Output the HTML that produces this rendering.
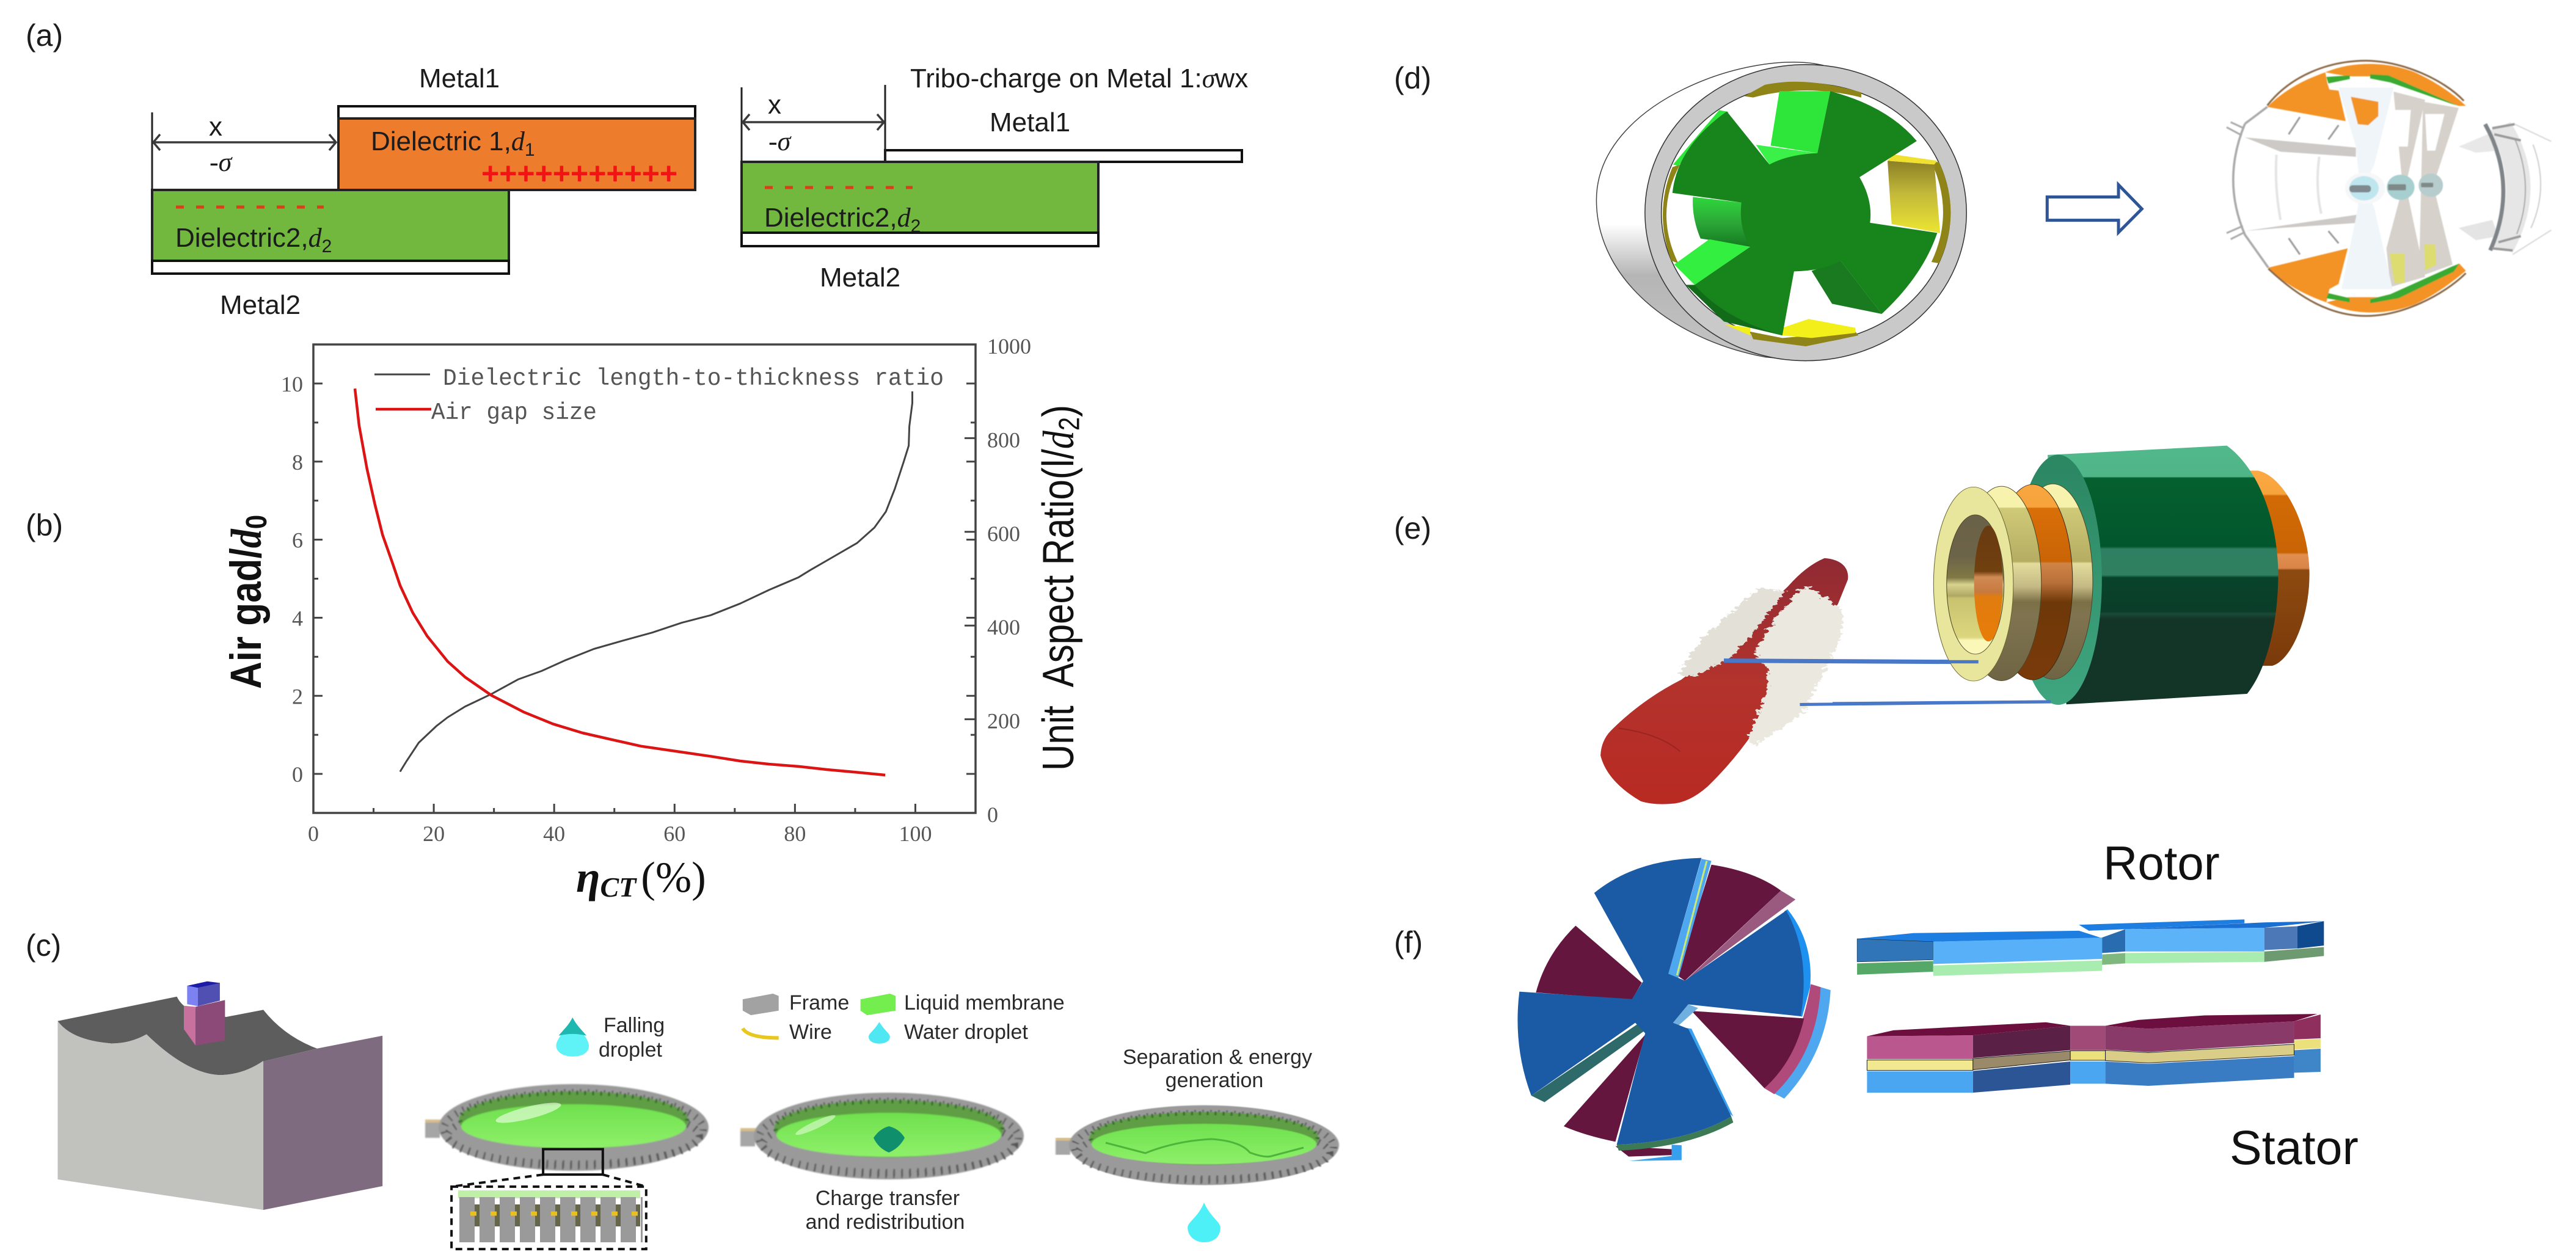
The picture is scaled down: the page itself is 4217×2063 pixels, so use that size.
<!DOCTYPE html>
<html lang="en">
<head>
<meta charset="utf-8">
<title>Tribo-electric generator figure</title>
<style>
html,body{margin:0;padding:0;background:#fff}
svg{display:block;position:absolute;left:0;top:0}
text{font-family:"Liberation Sans",sans-serif;fill:#1c1c1c}
.ns *{vector-effect:non-scaling-stroke}
.lbl{font-size:50px}
.a{font-size:44px}
.c{font-size:34px;fill:#2a2a2a}
.sg{font-family:"Liberation Serif",serif;font-style:italic}
.tick{font-family:"Liberation Serif",serif;font-size:36px;fill:#555}
.leg{font-family:"Liberation Mono",monospace;font-size:39px;fill:#555}
</style>
</head>
<body>
<svg id="fig" xmlns="http://www.w3.org/2000/svg" width="4217" height="2063" viewBox="0 0 4217 2063">
<defs>
<filter id="soft" x="-5%" y="-5%" width="110%" height="110%"><feGaussianBlur stdDeviation="2"/></filter>
<filter id="softer" x="-5%" y="-5%" width="110%" height="110%"><feGaussianBlur stdDeviation="1"/></filter>
<filter id="rough" x="-10%" y="-10%" width="120%" height="120%"><feTurbulence type="fractalNoise" baseFrequency="0.09" numOctaves="3" seed="4"/><feDisplacementMap in="SourceGraphic" scale="22" xChannelSelector="R" yChannelSelector="G"/></filter>
<linearGradient id="gMem" x1="0" y1="0" x2="0" y2="1"><stop offset="0" stop-color="#6fe04e"/><stop offset="1" stop-color="#8ff06a"/></linearGradient>
<linearGradient id="gBody" gradientUnits="userSpaceOnUse" x1="0" y1="208" x2="0" y2="1315">
<stop offset="0" stop-color="#52b98c"/><stop offset=".12" stop-color="#4fb588"/><stop offset=".125" stop-color="#05602f"/><stop offset=".39" stop-color="#02572c"/><stop offset=".4" stop-color="#2f8062"/><stop offset=".5" stop-color="#2f7f60"/><stop offset=".51" stop-color="#08432a"/><stop offset=".64" stop-color="#0b3d28"/><stop offset=".65" stop-color="#1c4a38"/><stop offset=".67" stop-color="#123527"/><stop offset="1" stop-color="#123527"/></linearGradient>
<linearGradient id="gFace" x1="0" y1="0" x2="0" y2="1"><stop offset="0" stop-color="#2b8662"/><stop offset="1" stop-color="#3fa67f"/></linearGradient>
<linearGradient id="gYel" gradientUnits="userSpaceOnUse" x1="0" y1="380" x2="0" y2="1210">
<stop offset="0" stop-color="#f8f3ae"/><stop offset=".11" stop-color="#f6f1ab"/><stop offset=".115" stop-color="#cfca78"/><stop offset=".39" stop-color="#b5ad62"/><stop offset=".4" stop-color="#e3dc9c"/><stop offset=".52" stop-color="#c4b984"/><stop offset=".6" stop-color="#7a6f45"/><stop offset=".66" stop-color="#807450"/><stop offset="1" stop-color="#6f6444"/></linearGradient>
<linearGradient id="gOra" gradientUnits="userSpaceOnUse" x1="0" y1="380" x2="0" y2="1210">
<stop offset="0" stop-color="#f9a640"/><stop offset=".11" stop-color="#f8a33c"/><stop offset=".115" stop-color="#d96f08"/><stop offset=".39" stop-color="#c96405"/><stop offset=".4" stop-color="#cf8446"/><stop offset=".5" stop-color="#b9703a"/><stop offset=".6" stop-color="#6e3808"/><stop offset="1" stop-color="#7a3a0a"/></linearGradient>
<linearGradient id="gBack" gradientUnits="userSpaceOnUse" x1="0" y1="315" x2="0" y2="1150">
<stop offset="0" stop-color="#fcaa44"/><stop offset=".12" stop-color="#f8a33c"/><stop offset=".13" stop-color="#d26b05"/><stop offset=".42" stop-color="#c96405"/><stop offset=".43" stop-color="#e08f50"/><stop offset=".5" stop-color="#d98448"/><stop offset=".51" stop-color="#8d4a10"/><stop offset="1" stop-color="#7a3a0a"/></linearGradient>
<linearGradient id="gHole" gradientUnits="userSpaceOnUse" x1="0" y1="505" x2="0" y2="1100">
<stop offset="0" stop-color="#6a6148"/><stop offset=".3" stop-color="#6c6448"/><stop offset=".45" stop-color="#807844"/><stop offset=".5" stop-color="#d9d38f"/><stop offset=".58" stop-color="#b0a764"/><stop offset=".6" stop-color="#c9c26f"/><stop offset=".88" stop-color="#dcd77e"/><stop offset=".9" stop-color="#fbf7b8"/><stop offset="1" stop-color="#fbf7b8"/></linearGradient>
<linearGradient id="gIn" gradientUnits="userSpaceOnUse" x1="0" y1="550" x2="0" y2="1040">
<stop offset="0" stop-color="#6a3a12"/><stop offset=".4" stop-color="#70400f"/><stop offset=".45" stop-color="#d08a55"/><stop offset=".58" stop-color="#c77a3f"/><stop offset=".62" stop-color="#e07c10"/><stop offset="1" stop-color="#e87c08"/></linearGradient>
<linearGradient id="gShell" gradientUnits="userSpaceOnUse" x1="0" y1="222" x2="0" y2="1425"><stop offset="0" stop-color="#fff"/><stop offset=".55" stop-color="#fff"/><stop offset=".72" stop-color="#b5b5b5"/><stop offset="1" stop-color="#c5c5c5"/></linearGradient>
<linearGradient id="gGB" gradientUnits="userSpaceOnUse" x1="0" y1="780" x2="0" y2="975"><stop offset="0" stop-color="#2fd63c"/><stop offset=".5" stop-color="#2ca838"/><stop offset="1" stop-color="#157a20"/></linearGradient>
<linearGradient id="gYB" gradientUnits="userSpaceOnUse" x1="0" y1="635" x2="0" y2="920"><stop offset="0" stop-color="#8a7f25"/><stop offset=".45" stop-color="#c2b83a"/><stop offset="1" stop-color="#ece532"/></linearGradient>
<linearGradient id="gTube" x1="0" y1="0" x2="0" y2="1"><stop offset="0" stop-color="#8f2a33"/><stop offset=".5" stop-color="#b3332d"/><stop offset="1" stop-color="#b82a22"/></linearGradient>
<g id="ring">
<rect x="-243" y="-13" width="24" height="30" fill="#a6a6a6"/>
<rect x="-243" y="-13" width="36" height="5" fill="#d6bd8a"/>
<ellipse rx="221" ry="71" fill="#9a9a9a"/>
<ellipse cy="14" rx="206" ry="46" fill="none" stroke="#555" stroke-width="12" stroke-dasharray="2.5 10.5"/>
<ellipse cy="3" rx="212" ry="60" fill="none" stroke="#5c5c5c" stroke-width="12" stroke-dasharray="2.5 10.5"/>
<ellipse cy="-12" rx="188" ry="47" fill="#5f9e44"/>
<ellipse cy="-14" rx="186" ry="43" fill="none" stroke="#36662a" stroke-width="7" stroke-dasharray="3 10"/>
<ellipse cy="-2" rx="184" ry="36" fill="url(#gMem)"/>
</g>
</defs>

<rect width="4217" height="2063" fill="#fff"/>

<!-- panel labels -->
<g>
<text class="lbl" x="42" y="75">(a)</text>
<text class="lbl" x="42" y="877">(b)</text>
<text class="lbl" x="42" y="1565">(c)</text>
<text class="lbl" x="2282" y="145">(d)</text>
<text class="lbl" x="2282" y="882">(e)</text>
<text class="lbl" x="2282" y="1560">(f)</text>
</g>

<!-- panel a -->
<g>
<rect x="554" y="174" width="584" height="20" fill="#fff" stroke="#111" stroke-width="4"/>
<rect x="554" y="194" width="584" height="117" fill="#ed7d2d" stroke="#222" stroke-width="4"/>
<rect x="249" y="311" width="584" height="116" fill="#72b83f" stroke="#222" stroke-width="4"/>
<rect x="249" y="427" width="584" height="21" fill="#fff" stroke="#111" stroke-width="4"/>
<path d="M249,184V311M554,194V311" stroke="#222" stroke-width="3" fill="none"/>
<path d="M251,233H550M262,220L251,233L262,246M539,220L550,233L539,246" stroke="#3a3a3a" stroke-width="3.5" fill="none"/>
<text class="a" x="342" y="222">x</text>
<text class="a sg" x="343" y="280">-σ</text>
<text class="a" x="607" y="246">Dielectric 1,<tspan class="sg">d</tspan><tspan dy="9" font-size="30">1</tspan></text>
<text x="788" y="301" font-size="50" font-weight="bold" style="fill:#f01414">+++++++++++</text>
<line x1="288" y1="339" x2="530" y2="339" stroke="#d8401c" stroke-width="5" stroke-dasharray="13 20"/>
<text class="a" x="287" y="404">Dielectric2,<tspan class="sg">d</tspan><tspan dy="9" font-size="30">2</tspan></text>
<text class="a" x="686" y="143">Metal1</text>
<text class="a" x="360" y="514">Metal2</text>
</g>
<g>
<rect x="1449" y="246" width="584" height="19" fill="#fff" stroke="#111" stroke-width="4"/>
<rect x="1214" y="265" width="584" height="116" fill="#72b83f" stroke="#222" stroke-width="4"/>
<rect x="1214" y="381" width="584" height="22" fill="#fff" stroke="#111" stroke-width="4"/>
<path d="M1214,143V265M1449,139V265" stroke="#222" stroke-width="3" fill="none"/>
<path d="M1216,200H1447M1227,187L1216,200L1227,213M1436,187L1447,200L1436,213" stroke="#3a3a3a" stroke-width="3.5" fill="none"/>
<text class="a" x="1257" y="186">x</text>
<text class="a sg" x="1258" y="246">-σ</text>
<text class="a" x="1620" y="215">Metal1</text>
<text class="a" x="1490" y="143">Tribo-charge on Metal 1:<tspan class="sg">σ</tspan>wx</text>
<line x1="1252" y1="307" x2="1494" y2="307" stroke="#d8401c" stroke-width="5" stroke-dasharray="13 20"/>
<text class="a" x="1251" y="371">Dielectric2,<tspan class="sg">d</tspan><tspan dy="9" font-size="30">2</tspan></text>
<text class="a" x="1342" y="469">Metal2</text>
</g>

<!-- panel b : chart -->
<g id="chart">
<rect x="513" y="564" width="1084" height="767" fill="none" stroke="#444" stroke-width="3.5"/>
<text transform="translate(427,1128) rotate(-90) scale(1,1.15)" font-size="62" font-weight="bold" style="fill:#111">Air gad/<tspan font-family="Liberation Serif" font-style="italic">d</tspan><tspan font-size="42" dy="8">0</tspan></text>
<text transform="translate(1757,1262) rotate(-90) scale(1,1.2)" font-size="60" style="fill:#111" xml:space="preserve">Unit  Aspect Ratio(l/<tspan font-family="Liberation Serif" font-style="italic">d</tspan><tspan font-size="40" dy="8">2</tspan><tspan dy="-8">)</tspan></text>
<text x="943" y="1460" font-size="62" style="font-family:'Liberation Serif',serif;fill:#111"><tspan font-weight="bold" font-style="italic" font-size="72">η</tspan><tspan font-weight="bold" font-style="italic" font-size="46" dy="8">CT</tspan><tspan dy="-8" dx="8" font-size="71">(%)</tspan></text>
<line x1="613" y1="613" x2="704" y2="613" stroke="#444" stroke-width="3"/>
<text class="leg" x="725" y="630" textLength="820" lengthAdjust="spacingAndGlyphs">Dielectric length-to-thickness ratio</text>
<line x1="615" y1="670" x2="706" y2="670" stroke="#e01010" stroke-width="4.5"/>
<text class="leg" x="706" y="686" textLength="271" lengthAdjust="spacingAndGlyphs">Air gap size</text>
</g>

<!-- panel c -->
<g class="ns" transform="translate(60,1540) scale(.7651,.3336)">
<path fill="#5d5d5d" d="M45,395L300,275Q305,300 315,320L405,375L485,340Q530,470 600,530L490,590Q440,660 390,660Q320,650 235,460Q200,505 160,505Q75,490 45,395Z"/>
<path fill="#c1c1be" d="M45,395Q75,490 160,505Q200,505 235,460Q320,650 390,660Q440,660 485,590V1322L45,1172Z"/>
<path fill="#7f6b80" d="M485,590L490,590L600,530L740,467V1205L485,1322Z"/>
<path fill="#c8709e" d="M315,320L340,325V515L315,435Z"/>
<path fill="#8b4a78" d="M340,325L403,292V490L340,515Z"/>
<path fill="#7d82f2" d="M322,222L345,232V322L322,312Z"/>
<path fill="#5050b2" d="M345,232L392,207V295L345,322Z"/>
<path fill="#1c1ca8" d="M322,222L365,200L392,208L345,232Z"/>
</g>
<use href="#ring" transform="translate(939,1846)" filter="url(#softer)"/>
<use href="#ring" transform="translate(1455,1860)" filter="url(#softer)"/>
<use href="#ring" transform="translate(1971,1875) scale(1,.92)" filter="url(#softer)"/>
<ellipse cx="865" cy="1822" rx="55" ry="10" transform="rotate(-14 865 1822)" fill="#e9ffe0" opacity=".65"/>
<ellipse cx="1335" cy="1842" rx="36" ry="6" transform="rotate(-25 1335 1842)" fill="#e9ffe0" opacity=".55"/>
<path d="M1430,1863Q1440,1848 1455,1844Q1472,1848 1481,1863Q1472,1880 1455,1887Q1438,1880 1430,1863Z" fill="#0f8f6c"/>
<path d="M1810,1871L1875,1888Q1925,1868 1983,1865Q2030,1868 2046,1887Q2070,1896 2081,1893L2134,1879" fill="none" stroke="#4db53a" stroke-width="3"/>
<g class="ns" transform="translate(0,1480) scale(1.339,.3718)">
<rect x="664" y="1080" width="73" height="112" fill="none" stroke="#111" stroke-width="4"/>
<path d="M664,1192L552,1245M737,1192L790,1245" fill="none" stroke="#111" stroke-width="4" stroke-dasharray="11 8"/>
<rect x="552" y="1245" width="238" height="275" fill="#fff" stroke="#111" stroke-width="4" stroke-dasharray="11 8"/>
<path fill="#a2a2a2" d="M908,420L945,395L952,405V470L918,490L908,470Z"/>
<path fill="#74ee4e" d="M1052,420L1088,395L1095,405V470L1060,490L1052,470Z"/>
<path fill="none" stroke="#e8c81e" stroke-width="6" d="M908,548Q915,590 952,590"/>
<path fill="#4fe8f2" d="M1075,520C1068,560 1062,570 1062,585C1062,605 1068,615 1075,615C1082,615 1088,605 1088,585C1088,570 1082,560 1075,520Z"/>
<path fill="#5ff2f6" d="M700,500C695,545 680,590 680,625C680,655 690,672 700,672C712,672 720,655 720,625C720,590 705,545 700,500Z"/>
<path fill="#1fb8b0" d="M700,500C695,535 690,550 683,580Q700,565 717,580C710,550 705,535 700,500Z"/>
<path fill="#4df0f6" d="M1472,1315C1465,1380 1452,1400 1452,1425C1452,1465 1462,1490 1472,1490C1484,1490 1492,1465 1492,1425C1492,1400 1480,1380 1472,1315Z"/>
</g>
<rect x="750" y="1949" width="298" height="13" fill="#c0f0a8"/>
<rect x="752" y="1972" width="296" height="36" fill="#66664a"/>
<line x1="752" y1="1997" x2="1052" y2="1997" stroke="#9a9a9a" stroke-width="74" stroke-dasharray="25 8"/>
<line x1="770" y1="1987" x2="1050" y2="1987" stroke="#e8c020" stroke-width="7" stroke-dasharray="10 23"/>
<g>
<text class="c" x="1292" y="1653">Frame</text>
<text class="c" x="1480" y="1653">Liquid membrane</text>
<text class="c" x="1292" y="1701">Wire</text>
<text class="c" x="1480" y="1701">Water droplet</text>
<text class="c" x="988" y="1690">Falling</text>
<text class="c" x="980" y="1730">droplet</text>
<text class="c" x="1993" y="1742" text-anchor="middle">Separation &amp; energy</text>
<text class="c" x="1988" y="1780" text-anchor="middle">generation</text>
<text class="c" x="1453" y="1973" text-anchor="middle">Charge transfer</text>
<text class="c" x="1449" y="2012" text-anchor="middle">and redistribution</text>
</g>

<!-- panel d left -->
<g class="ns" transform="translate(2200,0) scale(.957,.4145)">
<path d="M820,258C700,190 432,400 432,790C432,1100 560,1340 720,1410L790,1425L790,255Z" fill="url(#gShell)" stroke="#444" stroke-width="1.5"/>
<ellipse cx="790" cy="840" rx="275" ry="585" fill="#cac9c9" stroke="#333" stroke-width="1.5"/>
<ellipse cx="790" cy="841" rx="247" ry="512" fill="#fff" stroke="#333" stroke-width="1.5"/>
<path fill="#8f8418" d="M685,380L700,385Q790,330 885,385V365Q790,300 720,335Z"/>
<path fill="#8f8418" d="M695,1310L750,1335L875,1310L880,1325L790,1368L700,1340Z"/>
<path fill="#8f8418" d="M1005,640Q1045,840 1005,1035L1018,1040Q1058,840 1018,640Z"/>
<path fill="#8f8418" d="M575,650Q530,840 572,1040L560,1030Q530,840 562,660Z"/>
<path fill="url(#gYB)" d="M930,635L1010,650L1020,920L937,885Z"/>
<path fill="#f0e030" d="M940,610L1015,635L1010,650L930,635Z"/>
<path fill="#f2ef1a" d="M750,1325V1295L795,1260L875,1295V1315L800,1335Z"/>
<path fill="#f2ef1a" d="M650,1280L695,1295V1325Z"/>
<path fill="#2ee63a" d="M745,360H832L810,605L730,575Z"/>
<path fill="#3cf04a" d="M705,572L810,605L728,650Z"/>
<path fill="#2ee63a" d="M642,435L658,442L572,655L563,650Z"/>
<path fill="url(#gGB)" d="M597,778L680,800L695,975L610,942Q595,860 597,778Z"/>
<path fill="#33f040" d="M625,945L695,975L600,1125L565,1045Z"/>
<path fill="#1a7a20" d="M800,1070L850,1030L920,1240L835,1200Z"/>
<path fill="#126b18" d="M585,1125H600L750,1325L650,1270Z"/>
<path fill="#18841c" d="M655,440L728,650Q760,610 810,605L832,360Q930,420 980,557L882,700Q905,790 900,880L1015,920Q990,1090 920,1240L850,1030Q820,1070 770,1072L750,1325Q650,1260 600,1125L695,975Q675,900 680,800L562,762Q570,580 655,440Z"/>
<path fill="#fff" stroke="#2f5597" stroke-width="5" d="M1203,778H1325V730L1365,825L1325,918V870H1203Z"/>
</g>

<!-- panel d right -->
<g transform="translate(3700,40) scale(.3333)" filter="url(#soft)">
<path fill="#e8e8e8" d="M975,600L1140,530L1170,620L1060,630Z"/>
<path fill="#e4e4e4" d="M975,1000L1140,960L1170,1040L1060,1060Z"/>
<path fill="#e6e6e6" d="M1130,520L1230,480Q1420,790 1240,1120L1140,1090Q1280,800 1130,520Z"/>
<path fill="none" stroke="#7f8488" stroke-width="20" d="M1105,490Q1270,790 1130,1110"/>
<path fill="none" stroke="#a8a8a8" stroke-width="6" d="M1250,560Q1350,800 1260,1030"/>
<path fill="none" stroke="#cfcfcf" stroke-width="6" d="M1340,590Q1420,800 1330,1000"/>
<path fill="none" stroke="#9a9a9a" stroke-width="12" d="M1140,510L1250,490M1150,540L1280,570M1140,1100L1240,1110M1170,1070L1280,1040"/>
<path fill="none" stroke="#d8d8d8" stroke-width="6" d="M1250,490L1430,575M1240,1130L1430,1010"/>
<path fill="#ccc9c6" d="M-75,555L470,605L470,650L100,625Z"/>
<path fill="#ccc9c6" d="M-75,1015L475,935V975L100,1000Z"/>
<path fill="none" stroke="#e4e4e4" stroke-width="12" d="M80,640Q70,800 100,960M290,650Q270,800 300,930"/>
<path fill="none" stroke="#9c9c9c" stroke-width="9" d="M140,540L195,455M335,565L385,495M140,1050L195,1130M335,1015L385,1075"/>
<path fill="none" stroke="#aaa" stroke-width="11" d="M-75,488Q-190,765 -75,1033L40,1195M-75,488L35,405"/>
<path fill="none" stroke="#aaa" stroke-width="9" d="M-145,480L-80,510M-165,505L-90,545M-165,1025L-85,990M-145,1055L-75,1020"/>
<path fill="#d6d1cb" d="M800,380L975,410L850,790L945,1180L780,1240Z"/>
<path fill="#d6d1cb" d="M655,330L810,370L715,790L810,1240L640,1290L620,1100L700,800Z"/>
<path fill="#fff" d="M640,420H740L725,600H680Z"/>
<path fill="#fff" d="M810,440H905L860,620H820Z"/>
<path fill="#dcdc70" d="M635,1125H710V1270H660Z"/>
<path fill="#dcdc70" d="M805,1080H860L865,1180L810,1210Z"/>
<path fill="#eff5f8" d="M385,310H655L560,690L510,790L560,900L650,1300H400L480,900L490,790L470,600Z"/>
<path fill="#f39326" d="M320,235C450,180 620,180 760,235C860,280 960,350 1010,400L975,400L640,255H430Z"/>
<path fill="#f39326" d="M325,1365C450,1430 620,1430 760,1375C860,1330 950,1260 1010,1210L978,1175L640,1340H430Z"/>
<path fill="#f39326" d="M35,405C120,320 220,270 320,235L330,290L340,320L385,325L420,475Z"/>
<path fill="#f39326" d="M40,1195L430,1100L385,1275L340,1300L325,1365C220,1330 110,1270 40,1195Z"/>
<path fill="#f39326" d="M445,355L580,380V450L530,495L480,490Z"/>
<path fill="#3aaa30" d="M325,258L440,250V268L335,290Z"/>
<path fill="#3aaa30" d="M540,245L630,250L975,400L940,390L640,285L540,265Z"/>
<path fill="#3aaa30" d="M335,1320L440,1345V1365L325,1345Z"/>
<path fill="#3aaa30" d="M540,1350L640,1325L940,1190L978,1175L950,1215L680,1345L540,1370Z"/>
<path fill="none" stroke="#8a6a4a" stroke-width="9" d="M35,398C150,250 340,178 520,178C700,180 900,270 1000,375"/>
<path fill="none" stroke="#8a6a4a" stroke-width="9" d="M40,1200C200,1350 350,1432 520,1432C700,1432 900,1330 1010,1222"/>
<ellipse cx="515" cy="805" rx="98" ry="78" fill="#f5f7f8"/>
<ellipse cx="510" cy="805" rx="72" ry="60" fill="#bfe6ee"/>
<rect x="438" y="790" width="106" height="35" rx="15" fill="#7e8a90"/>
<ellipse cx="690" cy="800" rx="68" ry="62" fill="#a8cfd0"/>
<rect x="628" y="785" width="88" height="30" rx="6" fill="#7f8a88"/>
<ellipse cx="838" cy="790" rx="60" ry="58" fill="#b7cccc"/>
<rect x="790" y="778" width="60" height="22" rx="5" fill="#7f8a88"/>
</g>

<!-- panel e -->
<g class="ns" transform="translate(2200,650) scale(.957,.4464)">
<path fill="url(#gTube)" d="M822,591C850,595 865,625 862,670L845,760L725,1075Q715,1180 691,1259Q660,1350 623,1427Q590,1490 559,1492Q530,1497 508,1483Q450,1410 439,1315Q440,1260 457,1223Q510,1110 577,1037L657,907L760,694Q790,620 822,591Z"/>
<path fill="none" stroke="#9c2420" stroke-width="2" d="M470,1215Q540,1235 575,1300"/>
<path fill="#e3e0d8" filter="url(#rough)" d="M708,703L754,712L691,889L657,963L600,1028L571,1019L611,889L669,777Z"/>
<path fill="#ebe8e0" filter="url(#rough)" d="M794,694L852,777L852,870L806,1075L783,1167L702,1279L691,1259L725,1075L725,999L702,934L737,815L777,712Z"/>
<line x1="650" y1="967" x2="1085" y2="972" stroke="#4a78c8" stroke-width="7"/>
<line x1="780" y1="1128" x2="1210" y2="1118" stroke="#4a78c8" stroke-width="5"/>
</g>
<g transform="translate(3000,650) scale(.5102,.3827)">
<path fill="url(#gBack)" d="M1365,315C1450,340 1530,550 1530,760C1530,950 1470,1130 1410,1150L1300,1150V315Z"/>
<path fill="url(#gBody)" d="M690,248L1265,208C1350,290 1425,480 1430,750C1430,980 1390,1170 1330,1270L750,1315Z"/>
<ellipse cx="724" cy="782" rx="140" ry="535" fill="url(#gFace)"/>
<ellipse cx="707" cy="790" rx="128" ry="418" fill="url(#gYel)" stroke="#4a4526" stroke-width="2"/>
<ellipse cx="642" cy="792" rx="128" ry="418" fill="url(#gOra)" stroke="#3a2a10" stroke-width="2"/>
<ellipse cx="542" cy="798" rx="128" ry="416" fill="url(#gYel)" stroke="#4a4526" stroke-width="2"/>
<ellipse cx="452" cy="800" rx="128" ry="415" fill="#e8e59c" stroke="#6a6530" stroke-width="2"/>
<ellipse cx="458" cy="802" rx="92" ry="298" fill="url(#gHole)" stroke="#4a4526" stroke-width="2"/>
<ellipse cx="500" cy="798" rx="46" ry="248" fill="url(#gIn)"/>
<line x1="0" y1="1131" x2="468" y2="1133" stroke="#4a78c8" stroke-width="14"/>
<line x1="0" y1="1310" x2="700" y2="1302" stroke="#4a78c8" stroke-width="10"/>
</g>

<!-- panel f -->
<g class="ns" transform="translate(2200,1300) scale(1.084,.4866)">
<path fill="#4fa8ef" d="M705,640L735,660Q730,870 665,1025L635,990Q690,850 705,640Z"/>
<path fill="#b04a7a" d="M705,640L720,650Q715,870 650,1010L635,990Q690,850 705,640Z"/>
<path fill="#65163f" d="M555,238Q620,260 660,325L515,628L503,610Z"/>
<path fill="#9a5a80" d="M660,325L682,355L515,630Z"/>
<path fill="#65163f" d="M350,443L450,635L435,692L290,668Q305,540 350,443Z"/>
<path fill="#65163f" d="M525,730L695,755Q680,900 635,990Z"/>
<path fill="#65163f" d="M455,810L410,1170Q365,1150 332,1118Z"/>
<path fill="#65163f" d="M410,1185L495,1195V1215L430,1220Z"/>
<path fill="#37a0ee" d="M495,1180L510,1182V1232L430,1235L495,1218Z"/>
<path fill="#4fa8ef" d="M540,218L555,225L505,620L490,605Z"/>
<line x1="548" y1="225" x2="503" y2="610" stroke="#c8e87a" stroke-width="3"/>
<path fill="#1e90ef" d="M670,388Q710,500 704,650L692,750L680,735Q695,550 665,395Z"/>
<path fill="#2f6a6a" d="M443,775L455,795L303,1037L283,1015Z"/>
<path fill="#3b7a55" d="M585,1085L588,1105Q520,1190 415,1200L412,1180Q520,1170 585,1085Z"/>
<path fill="#3aa2ee" d="M510,785L525,790L588,1085L582,1075Z"/>
<path fill="#70b0e0" d="M520,708L535,720L505,780L497,770Z"/>
<path fill="#1b5aa4" d="M378,333Q440,220 540,215L490,605L515,628L668,392Q705,540 690,748L520,708L497,770L520,790L585,1085Q520,1170 412,1180L455,805L440,770L283,1015Q255,850 265,665L435,690L452,630Z"/>
<path fill="#1d7de0" d="M1110,440L1360,422V435L1180,455L1125,460Z"/>
<path fill="#1a6fd0" d="M1180,455L1390,432L1480,428L1390,450Z"/>
<path fill="#1d7de0" d="M775,487L860,468L1110,460L1145,485L890,497Z"/>
<path fill="#2f75b8" stroke="#111" stroke-width=".5" d="M775,487L890,497V558L775,565Z"/>
<path fill="#55a868" d="M775,570L890,562V598L775,608Z"/>
<path fill="#58b0f8" d="M890,497L1145,483V555L890,572Z"/>
<path fill="#a8ecb0" d="M890,577L1145,560V595L890,612Z"/>
<path fill="#2a6cb0" d="M1145,483L1180,455V530L1145,535Z"/>
<path fill="#7fb87f" d="M1145,540L1180,535V570L1145,575Z"/>
<path fill="#5cb3f8" d="M1180,455L1390,450V530L1180,530Z"/>
<path fill="#a8ecb0" d="M1180,535L1390,531V565L1180,570Z"/>
<path fill="#4d78b8" d="M1390,450L1440,445V520L1390,525Z"/>
<path fill="#0f4a8f" d="M1440,445L1480,428V510L1440,520Z"/>
<path fill="#6d9a70" d="M1390,530L1480,515V545L1390,565Z"/>
<path fill="#6d0f3e" d="M790,815L830,795L1060,768L1097,780L950,812Z"/>
<path fill="#6d0f3e" d="M1150,780L1200,760L1300,745L1470,740L1435,765L1215,790Z"/>
<path fill="#8f2f5e" d="M1435,765L1475,742V822L1435,826Z"/>
<path fill="#ece07c" d="M1435,828L1475,824V855L1435,860Z"/>
<path fill="#3f86c8" d="M1435,862L1475,857V935L1435,938Z"/>
<path fill="#b9578e" d="M790,815L950,812V892H790Z"/>
<path fill="#f1e890" stroke="#222" stroke-width="1" d="M790,895H950V930H790Z"/>
<path fill="#4aa6f0" d="M790,933H950V1005H790Z"/>
<path fill="#5a2046" d="M950,812L1097,780V862L950,888Z"/>
<path fill="#9a8a6a" stroke="#222" stroke-width="1" d="M950,890L1097,865V895L950,928Z"/>
<path fill="#2c5596" d="M950,932L1097,900V978L950,1005Z"/>
<path fill="#a04a78" d="M1097,780H1150V862H1097Z"/>
<path fill="#ece07c" stroke="#222" stroke-width="1" d="M1097,864H1150V896H1097Z"/>
<path fill="#4aa6f0" d="M1097,900H1150V975H1097Z"/>
<path fill="#8a3a68" d="M1150,780L1215,790L1435,765V838L1215,868L1150,860Z"/>
<path fill="#d9cd88" stroke="#222" stroke-width="1" d="M1150,862L1215,870L1435,842V878L1215,905L1150,897Z"/>
<path fill="#3a7cc4" d="M1150,900L1215,908L1435,882V955L1215,982L1150,975Z"/>
</g>
<text x="3443" y="1440" font-size="78" style="fill:#111">Rotor</text>
<text x="3650" y="1906" font-size="79" style="fill:#111">Stator</text>
</svg>

<script>
// Chart data
const xTicks = [0, 20, 40, 60, 80, 100];
const xMinorTicks = [10, 30, 50, 70, 90];
const leftTicks = [0, 2, 4, 6, 8, 10];
const leftMinorTicks = [1, 3, 5, 7, 9];
const rightTicks = [0, 200, 400, 600, 800, 1000];
const ratioX = [14.4, 15.5, 17.5, 20.4, 22.3, 25.2, 29.6, 34, 37.9, 41.7, 46.6, 51.5, 56.3, 61.2, 66, 70.9, 75.7, 80.6, 82.5, 86.4, 90.3, 93.2, 95.1, 96.6, 98.1, 98.9, 99, 99.5, 99.5];
const ratioY = [88, 111, 150, 185, 204, 227, 254, 285, 303, 325, 350, 368, 385, 406, 422, 447, 476, 503, 518, 547, 576, 609, 643, 692, 751, 784, 825, 875, 900];
const gapX = [6.9, 7.6, 8.9, 10.2, 11.5, 13.1, 14.4, 16.5, 18.9, 22.3, 25.2, 29.6, 35, 39.8, 44.7, 49.5, 54.4, 60.2, 66, 70.9, 75.7, 80.6, 85.4, 90.3, 95];
const gapY = [9.87, 8.92, 7.82, 6.92, 6.12, 5.42, 4.83, 4.13, 3.53, 2.88, 2.48, 2.01, 1.58, 1.28, 1.05, 0.88, 0.71, 0.58, 0.45, 0.33, 0.25, 0.19, 0.11, 0.04, -0.03];

const NS = 'http://www.w3.org/2000/svg';
const chart = document.getElementById('chart');
const plot = {left: 513, right: 1597, top: 564, bottom: 1331};
function sx(v) { return plot.left + (v / 110) * (plot.right - plot.left); }
function syL(v) { return plot.bottom - ((v + 1) / 12) * (plot.bottom - plot.top); }
function syR(v) { return plot.bottom - (v / 1000) * (plot.bottom - plot.top); }

function seg(x1, y1, x2, y2) {
  const l = document.createElementNS(NS, 'line');
  l.setAttribute('x1', x1); l.setAttribute('y1', y1);
  l.setAttribute('x2', x2); l.setAttribute('y2', y2);
  l.setAttribute('stroke', '#444'); l.setAttribute('stroke-width', 3);
  chart.appendChild(l);
  return l;
}
function label(str, x, y, anchor) {
  const t = document.createElementNS(NS, 'text');
  t.setAttribute('class', 'tick');
  t.setAttribute('x', x); t.setAttribute('y', y);
  t.setAttribute('text-anchor', anchor);
  t.textContent = str;
  chart.appendChild(t);
  return t;
}
function curve(xs, ys, yf, color, width) {
  const p = document.createElementNS(NS, 'polyline');
  p.setAttribute('points', xs.map((x, i) => sx(x).toFixed(1) + ',' + yf(ys[i]).toFixed(1)).join(' '));
  p.setAttribute('fill', 'none');
  p.setAttribute('stroke', color);
  p.setAttribute('stroke-width', width);
  p.setAttribute('stroke-linejoin', 'round');
  chart.appendChild(p);
  return p;
}

xTicks.forEach(function (v) {
  const tk = seg(sx(v), plot.bottom, sx(v), plot.bottom - 15);
  
  
  const tl = label(String(v), sx(v), 1377, 'middle');
  
  
});
xMinorTicks.forEach(function (v) {
  const tk = seg(sx(v), plot.bottom, sx(v), plot.bottom - 8);
  
  
});
leftTicks.forEach(function (v) {
  const a = seg(plot.left, syL(v), plot.left + 15, syL(v));
  
  
  const b = seg(plot.right, syL(v), plot.right - 15, syL(v));
  
  
  const tl = label(String(v), 496, syL(v) + 13, 'end');
  
  
});
leftMinorTicks.forEach(function (v) {
  const a = seg(plot.left, syL(v), plot.left + 8, syL(v));
  
  
  const b = seg(plot.right, syL(v), plot.right - 8, syL(v));
  
  
});
rightTicks.forEach(function (v) {
  const a = seg(plot.right, syR(v), plot.right - 18, syR(v));
  
  
  const tl = label(String(v), 1616, syR(v) + 15, 'start');
  
  
});
const ratioLine = curve(ratioX, ratioY, syR, '#444', 3);


const gapLine = curve(gapX, gapY, syL, '#dc1414', 4.5);


</script>
</body>
</html>
